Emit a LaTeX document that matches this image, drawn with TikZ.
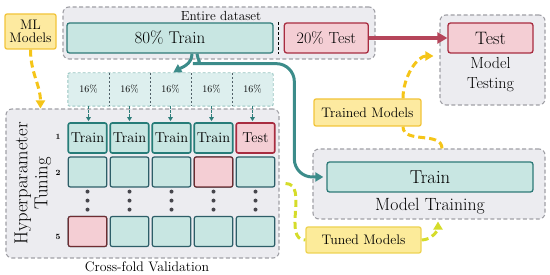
\documentclass[tikz,border=0pt]{standalone}
\usepackage{amsmath,amssymb}
\usepackage{xcolor}
\usepackage{tikz}
\usetikzlibrary{arrows.meta,positioning}

\begin{document}
\begin{tikzpicture}[
  x=1pt, y=1pt,
  cGrey/.style={rectangle, rounded corners=6pt, inner sep=0pt,
    dash pattern=on 4pt off 2.5pt,
    fill={rgb,255:red,236;green,236;blue,240},
    draw={rgb,255:red,160;green,160;blue,166},
    line width=1.1pt},
  cTeal/.style={rectangle, rounded corners=2.5pt,
    minimum height=30pt, inner sep=0pt,
    fill={rgb,255:red,200;green,230;blue,226},
    draw={rgb,255:red,46;green,122;blue,120},
    line width=1.3pt},
  cRose/.style={rectangle, rounded corners=2.5pt,
    minimum height=30pt, inner sep=0pt,
    fill={rgb,255:red,244;green,206;blue,212},
    draw={rgb,255:red,168;green,44;blue,64},
    line width=1.3pt},
  cGold/.style={rectangle, rounded corners=2pt, inner sep=0pt,
    align=center,
    fill={rgb,255:red,253;green,234;blue,160},
    draw={rgb,255:red,242;green,196;blue,58},
    line width=1.3pt, font=\fontsize{13.8}{15}\selectfont},
  cPart/.style={rectangle, minimum width=41pt, minimum height=33pt,
    inner sep=0pt,
    fill={rgb,255:red,221;green,239;blue,238},
    font=\fontsize{10}{10}\selectfont},
  cCell/.style={rectangle, rounded corners=2pt,
    minimum width=38.5pt, minimum height=30pt, inner sep=0pt,
    fill={rgb,255:red,200;green,230;blue,226},
    draw={rgb,255:red,45;green,94;blue,104},
    line width=1.2pt, font=\fontsize{14.4}{15}\selectfont},
  cCellT/.style={cCell, draw={rgb,255:red,38;green,124;blue,120},
    line width=1.6pt},
  cCellR/.style={cCell, fill={rgb,255:red,244;green,206;blue,212},
    draw={rgb,255:red,110;green,45;blue,50}},
  cCellX/.style={cCellR, draw={rgb,255:red,168;green,44;blue,64},
    line width=1.6pt},
  cDot/.style={fill={rgb,255:red,70;green,70;blue,76}},
  cFlow/.style={-{Triangle[length=8pt,width=9pt]},
    line width=3pt,
    color={rgb,255:red,60;green,140;blue,138}},
  cSmall/.style={-{Triangle[length=4pt,width=4.5pt]},
    line width=1.2pt, dash pattern=on 2.5pt off 1.5pt,
    color={rgb,255:red,46;green,125;blue,122}},
  cRed/.style={-{Triangle[length=10pt,width=11pt]},
    line width=3.5pt,
    color={rgb,255:red,181;green,69;blue,90}},
  cYel/.style={line width=3pt, dash pattern=on 7pt off 4pt,
    color={rgb,255:red,245;green,197;blue,24}},
  cYelArr/.style={cYel, -{Triangle[length=8pt,width=9pt]}},
  cLime/.style={line width=3pt, dash pattern=on 7pt off 4pt,
    color={rgb,255:red,213;green,220;blue,42}},
  cLimeArr/.style={cLime, -{Triangle[length=8pt,width=9pt]}},
]
  \useasboundingbox (0,0) rectangle (550,-275);

  %% ── Grey frames ─────────────────────────────────────────────
  \node[cGrey, minimum width=312pt, minimum height=52pt]
    (dataset) at (219,-33) {};
  \node[cGrey, minimum width=105pt, minimum height=90pt]
    (mtest) at (492.5,-60) {};
  \node[cGrey, minimum width=232pt, minimum height=70pt]
    (mtrain) at (429,-184) {};
  \node[cGrey, minimum width=273pt, minimum height=149pt]
    (hyper) at (142.5,-183.5) {};

  %% ── Dataset split ───────────────────────────────────────────
  \node[font=\fontsize{13.2}{14}\selectfont] (dlabel) at (221,-16)
    {Entire dataset};
  \node[cTeal, minimum width=206pt, font=\fontsize{17}{18}\selectfont]
    (train80) at (170,-38) {80\% Train};
  \node[cRose, minimum width=84pt, right=10pt of train80,
    font=\fontsize{16}{18}\selectfont] (test20) {20\% Test};
  \draw[line width=1.3pt, dash pattern=on 3pt off 2pt]
    ([xshift=5pt]train80.north east) -- ([xshift=5pt]train80.south east);

  %% ── Model testing ───────────────────────────────────────────
  \node[cRose, minimum width=85pt, font=\fontsize{18}{20}\selectfont]
    (testbox) at (490.5,-38) {Test};
  \node[below=4pt of testbox, align=center, inner sep=0pt,
    font=\fontsize{16}{20}\selectfont] (testlbl) {Model\\Testing};

  %% ── Model training ──────────────────────────────────────────
  \node[cTeal, minimum width=206pt, font=\fontsize{18.7}{20}\selectfont]
    (trainbox) at (430,-177) {Train};
  \node[below=5pt of trainbox, inner sep=0pt,
    font=\fontsize{17.7}{19}\selectfont] (trainlbl) {Model Training};

  %% ── Yellow tags ─────────────────────────────────────────────
  \node[cGold, minimum width=51pt, minimum height=35pt]
    (ml) at (30.5,-31.5) {ML\\[-2pt]Models};
  \node[cGold, minimum width=107pt, minimum height=27pt]
    (trained) at (367.5,-112.5) {Trained Models};
  \node[cGold, minimum width=115pt, minimum height=26pt,
    fill={rgb,255:red,252;green,235;blue,154},
    draw={rgb,255:red,238;green,211;blue,82}]
    (tuned) at (363.5,-240) {Tuned Models};

  %% ── 16% partitions ──────────────────────────────────────────
  \foreach \i in {1,...,5}
    \node[cPart] (p\i) at (47.5+41*\i,-89.5) {16\%};
  \draw[dash pattern=on 3pt off 2pt, line width=0.9pt, rounded corners=2pt,
    draw={rgb,255:red,150;green,196;blue,192}]
    (p1.north west) rectangle (p5.south east);
  \foreach \i in {1,...,4}
    \draw[dash pattern=on 2.5pt off 1.5pt, line width=0.9pt,
      draw={rgb,255:red,80;green,96;blue,104}]
      (p\i.north east) -- (p\i.south east);

  %% ── Cross-fold grid ─────────────────────────────────────────
  \foreach \i in {1,...,4}
    \node[cCellT] (a\i) at (45.5+42*\i,-138) {Train};
  \node[cCellX] (a5) at (255.5,-138) {Test};
  \foreach \i in {1,...,5}
    \node[cCell] (b\i) at (45.5+42*\i,-172) {};
  \node[cCellR] (b4) at (213.5,-172) {};
  \foreach \i in {1,...,5}
    \node[cCell] (c\i) at (45.5+42*\i,-231.5) {};
  \node[cCellR] (c1) at (87.5,-231.5) {};

  \foreach \i in {1,...,5}
    \foreach \d in {4,13,22}
      \fill[cDot] ([yshift=-\d pt]b\i.south) circle (2);

  \foreach \r/\y in {1/-137,2/-173,5/-237}
    \node[font=\fontsize{8}{8}\selectfont\bfseries] (row\r) at (58,\y) {\r};

  \node[rotate=90, align=center, inner sep=0pt,
    font=\fontsize{18.7}{20}\selectfont] (hlbl) at (33,-183.5)
    {Hyperparameter\\Tuning};
  \node[font=\fontsize{13.8}{15}\selectfont] (cvlbl) at (147,-267)
    {Cross-fold Validation};

  %% ── Arrows ───────────────────────────────────────────────────
  \foreach \i in {1,...,5}
    \draw[cSmall, shorten >=1pt] (p\i.south) -- (p\i.south |- a\i.north);

  \draw[cRed] (test20.east) -- (testbox.west);

  \draw[cFlow, shorten >=1pt] ([xshift=22pt]train80.south)
    to[out=-90,in=30] ([xshift=2pt]p3.north);
  \draw[cFlow, rounded corners=18pt, shorten >=3pt]
    ([xshift=27pt]train80.south) to[out=-90,in=180] ++(14,-10)
    -| ([xshift=-32pt]trainbox.west) -- (trainbox.west);

  \draw[cYelArr] (ml.south) to[out=-90,in=90]
    ([xshift=35pt]hyper.north west);
  \draw[cYelArr, shorten >=6pt] ([xshift=35.5pt]trained.north)
    to[out=90,in=180] ([yshift=4pt]mtest.west);
  \draw[cYel] ([xshift=13pt]mtrain.north)
    to[out=90,in=-90] ([xshift=35.5pt]trained.south);

  \draw[cLime] ([xshift=6pt]hyper.east) to[out=0,in=180] (tuned.west);
  \draw[cLimeArr, shorten >=2pt] (tuned.east)
    to[out=0,in=-90] ([xshift=9pt]mtrain.south);

\end{tikzpicture}
\end{document}
